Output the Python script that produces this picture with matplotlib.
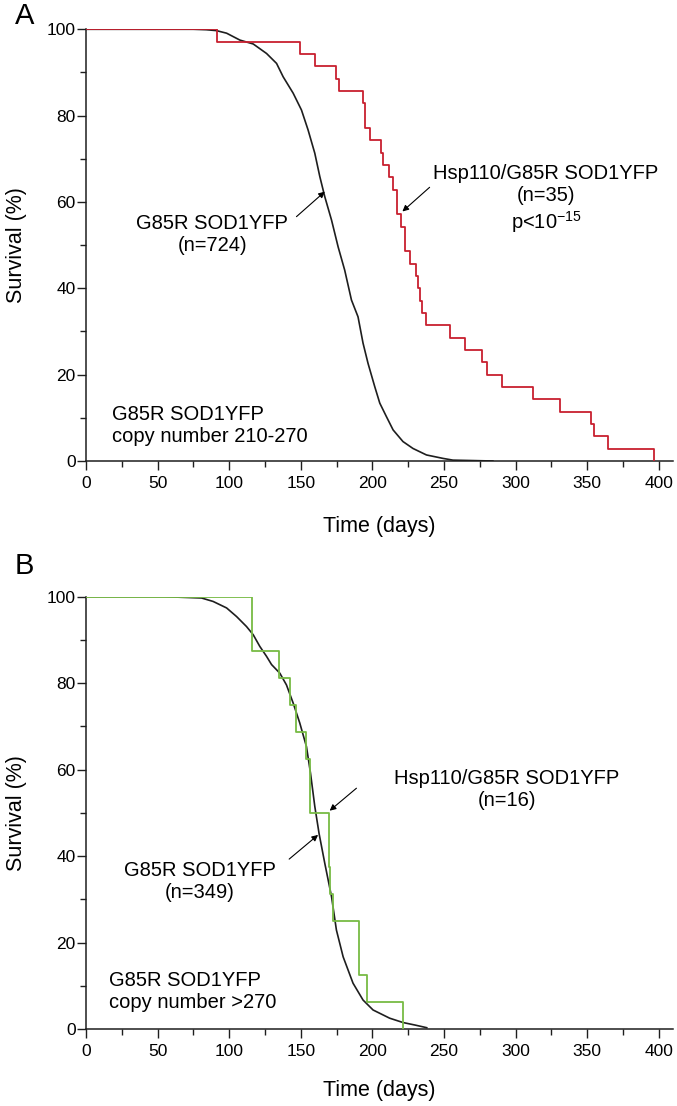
import numpy as np
import matplotlib
matplotlib.use("Agg")
import matplotlib.pyplot as plt
from matplotlib.ticker import MultipleLocator

plt.rcParams['font.family'] = ['Liberation Sans', 'DejaVu Sans']
plt.rcParams['mathtext.fontset'] = 'custom'
plt.rcParams['mathtext.rm'] = 'Liberation Sans'
plt.rcParams['mathtext.it'] = 'Liberation Sans'

# ============================================================================
# DATA
# ============================================================================

# Panel A - G85R SOD1YFP (n=724), copy number 210-270
a_black_days = [0, 75, 84, 91, 98.2, 107.5, 116.8, 126.1, 133.1, 137.7, 144.7,
                150.5, 155.1, 159.8, 163.3, 166.8, 171.5, 176.1, 180.7, 185.4,
                190, 193.5, 197, 201.7, 205.2, 209.8, 214.5, 221.4, 228.4,
                237.8, 249.4, 256.3, 284.2]
a_black_surv = [100, 100, 99.9, 99.7, 99.1, 97.5, 96.6, 94.4, 92.1, 89.0, 85.2,
                81.3, 76.7, 71.3, 65.9, 61.2, 55.8, 49.6, 44.2, 37.3,
                33.4, 27.3, 22.6, 17.2, 13.4, 10.3, 7.2, 4.5, 2.9,
                1.4, 0.6, 0.2, 0]

# Panel A - Hsp110/G85R SOD1YFP (n=35), Kaplan-Meier steps
a_red_days = [0, 91.2, 149.3, 159.8, 174.4, 176.8, 193.5, 195.2, 198.2, 206.3,
              207.5, 211.7, 214.5, 217.3, 220.3, 222.6, 226.1, 230.3, 231.9,
              233.5, 234.9, 237.3, 254.5, 264.5, 276.8, 280.3, 290.5, 312.2,
              331.3, 352.9, 354.5, 364.5, 396.4]
a_red_surv = [100, 97.14, 94.29, 91.43, 88.57, 85.71, 82.86, 77.14, 74.29, 71.43,
              68.57, 65.71, 62.86, 57.14, 54.29, 48.57, 45.71, 42.86, 40.0,
              37.14, 34.29, 31.43, 28.57, 25.71, 22.86, 20.0, 17.14, 14.29,
              11.43, 8.57, 5.71, 2.86, 0]

# Panel B - G85R SOD1YFP (n=349), copy number >270
b_black_days = [0, 55, 80.7, 88.8, 98.2, 105.2, 112.1, 116.8, 121.4, 126.1,
                129.6, 135.4, 140, 144.7, 149.3, 154, 156.8, 159.8, 162.8,
                166.8, 171.5, 174.9, 179.6, 186.5, 193.5, 200.5, 212.1, 221.4,
                230, 238]
b_black_surv = [100, 100, 99.7, 98.9, 97.4, 95.4, 93.1, 91.2, 88.5, 86.2,
                84.3, 82.3, 79.6, 75.4, 70.8, 65.3, 59.2, 51.5, 45.2,
                38.3, 30.6, 22.9, 16.7, 10.6, 6.7, 4.4, 2.5, 1.5,
                0.9, 0.3]

# Panel B - Hsp110/G85R SOD1YFP (n=16), Kaplan-Meier steps
b_green_days = [0, 115.6, 116.2, 134.7, 142.4, 146.5, 154.0, 156.3, 169.8,
                170.7, 172.6, 190.5, 196.3, 221.4]
b_green_surv = [100, 93.75, 87.5, 81.25, 75.0, 68.75, 62.5, 50.0, 37.5,
                31.25, 25.0, 12.5, 6.25, 0]

RED = "#c8202f"
GREEN = "#77bb44"
DARK = "#1e1e1e"

# ============================================================================
# FIGURE
# ============================================================================

W, H = 677, 1106
fig = plt.figure(figsize=(W / 100, H / 100), dpi=100)

ax_a = fig.add_axes([86 / W, 1 - 461 / H, 587 / W, 431.7 / H])
ax_b = fig.add_axes([86 / W, 1 - 1029 / H, 587 / W, 432.3 / H])


def style_axis(ax, xlab_offset):
    ax.set_xlim(0, 410)
    ax.set_ylim(0, 100)
    for side in ("top", "right"):
        ax.spines[side].set_visible(False)
    for side in ("left", "bottom"):
        ax.spines[side].set_linewidth(1.1)
        ax.spines[side].set_color(DARK)
    ax.xaxis.set_major_locator(MultipleLocator(50))
    ax.xaxis.set_minor_locator(MultipleLocator(25))
    ax.yaxis.set_major_locator(MultipleLocator(20))
    ax.yaxis.set_minor_locator(MultipleLocator(10))
    ax.tick_params(axis="both", which="major", length=6.5, width=1.0,
                   labelsize=12.5, color=DARK)
    ax.tick_params(axis="both", which="minor", length=4, width=1.0, color=DARK)
    ax.tick_params(axis="x", which="major", pad=4)
    ax.tick_params(axis="y", which="major", pad=1)
    ax.set_xticks([0, 50, 100, 150, 200, 250, 300, 350, 400])
    ax.set_xlabel("Time (days)", fontsize=15.5, va="center")
    ax.set_ylabel("Survival (%)", fontsize=15.5, va="center", ha="center")
    ax.xaxis.set_label_coords(0.5, -xlab_offset / 432)
    ax.yaxis.set_label_coords(-69 / 587, 0.5)


def arrow(ax, tail, head):
    ax.annotate("", xy=head, xytext=tail,
                arrowprops=dict(arrowstyle="-|>", lw=0.8, color="black",
                                mutation_scale=9, shrinkA=0, shrinkB=0))


# ==========================
# PANEL A
# ==========================

style_axis(ax_a, 66)
ax_a.plot(a_black_days, a_black_surv, color=DARK, lw=1.2, zorder=2)
ax_a.plot(a_red_days, a_red_surv, color=RED, lw=1.3, drawstyle="steps-post",
          zorder=3)

ax_a.text(88.3, 52.4, "G85R SOD1YFP\n(n=724)", ha="center", va="center",
          fontsize=14.5, linespacing=1.2)
arrow(ax_a, (147, 56.6), (166.8, 62.4))

ax_a.text(321.3, 60.6, "Hsp110/G85R SOD1YFP\n(n=35)\np<10$^{-15}$",
          ha="center", va="center", fontsize=14.5, linespacing=1.2)
arrow(ax_a, (240, 63.4), (221, 57.8))

ax_a.text(18.3, 8.3, "G85R SOD1YFP\ncopy number 210-270", ha="left",
          va="center", fontsize=14.5, linespacing=1.2)

fig.text(15 / W, 1 - 16 / H, "A", fontsize=21, ha="left", va="center")

# ==========================
# PANEL B
# ==========================

style_axis(ax_b, 61)
ax_b.plot(b_black_days, b_black_surv, color=DARK, lw=1.2, zorder=2)
ax_b.plot(b_green_days, b_green_surv, color=GREEN, lw=1.3,
          drawstyle="steps-post", zorder=3)

ax_b.text(293.8, 55.3, "Hsp110/G85R SOD1YFP\n(n=16)", ha="center",
          va="center", fontsize=14.5, linespacing=1.2)
arrow(ax_b, (188.9, 55.7), (170.2, 50.5))

ax_b.text(79.3, 34.2, "G85R SOD1YFP\n(n=349)", ha="center", va="center",
          fontsize=14.5, linespacing=1.2)
arrow(ax_b, (141.9, 39.3), (162.1, 44.9))

ax_b.text(16.3, 8.6, "G85R SOD1YFP\ncopy number >270", ha="left",
          va="center", fontsize=14.5, linespacing=1.2)

fig.text(15 / W, 1 - 566 / H, "B", fontsize=21, ha="left", va="center")

plt.savefig("out.png", dpi=100)
